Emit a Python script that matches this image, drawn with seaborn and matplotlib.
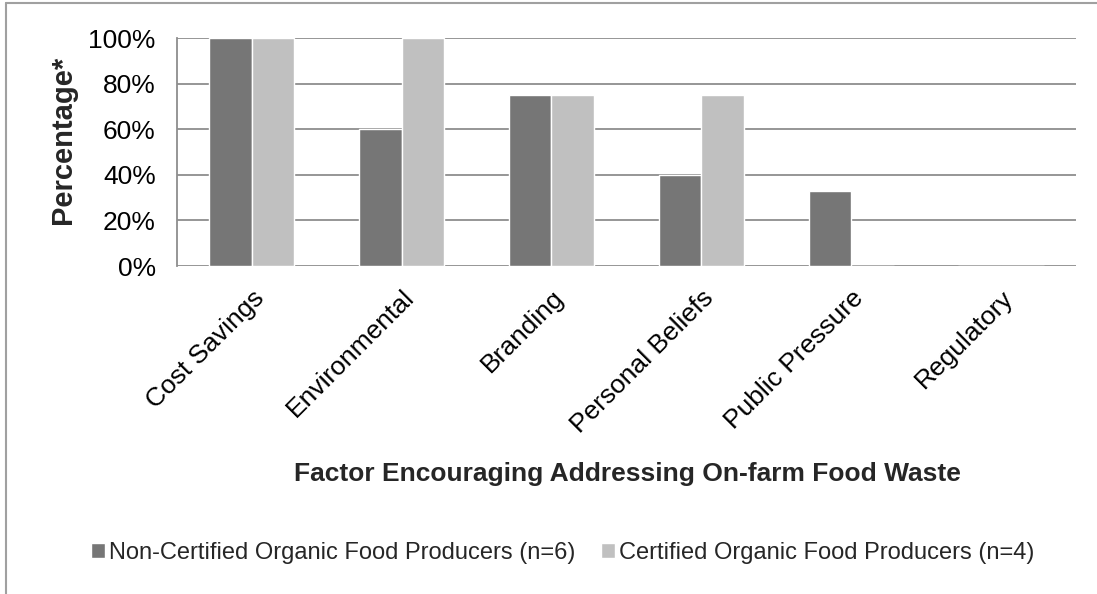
import numpy as np
import pandas as pd
import matplotlib.pyplot as plt
import seaborn as sns
from matplotlib.ticker import PercentFormatter
from matplotlib.lines import Line2D

# data
categories = ["Cost Savings", "Environmental", "Branding", "Personal Beliefs",
              "Public Pressure", "Regulatory"]
non_certified = [1.00, 0.60, 0.75, 0.40, 0.33, 0.0]
certified = [1.00, 1.00, 0.75, 0.75, 0.0, 0.0]
series_names = ["Non-Certified Organic Food Producers (n=6)",
                "Certified Organic Food Producers (n=4)"]

df = pd.DataFrame({
    "Factor": categories * 2,
    "Value": non_certified + certified,
    "Group": [series_names[0]] * len(categories) + [series_names[1]] * len(categories),
})

sns.set_theme(style="white")
plt.rcParams["font.family"] = ["Liberation Sans", "DejaVu Sans"]

fig = plt.figure(figsize=(10.97, 5.94), dpi=100)
ax = fig.add_axes([0.161, 0.552, 0.82, 0.384])

palette = {series_names[0]: "#767676", series_names[1]: "#c0c0c0"}
sns.barplot(data=df, x="Factor", y="Value", hue="Group", palette=palette,
            width=0.57, gap=0, saturation=1, ax=ax, legend=True)

ax.set_ylim(0, 1)
ax.set_yticks(np.arange(0, 1.01, 0.2))
ax.yaxis.set_major_formatter(PercentFormatter(1.0, decimals=0))
ax.grid(axis="y", color="#8e8e8e", linewidth=1.3)
ax.set_axisbelow(True)
for s in ["top", "right", "bottom"]:
    ax.spines[s].set_visible(False)
ax.spines["left"].set_color("#8e8e8e")
ax.spines["left"].set_linewidth(1.3)
ax.tick_params(axis="both", length=0, labelsize=19, colors="black")
ax.tick_params(axis="y", pad=15)
ax.tick_params(axis="x", pad=14)
plt.setp(ax.get_xticklabels(), rotation=45, ha="right", rotation_mode="anchor")

ax.set_ylabel("Percentage*", fontsize=21, fontweight="bold")
ax.yaxis.set_label_coords(-0.111, 0.553)
ax.set_xlabel("")
fig.text(0.5716, 0.202, "Factor Encouraging Addressing On-farm Food Waste",
         ha="center", va="center", fontsize=19, fontweight="bold")

handles, labels = ax.get_legend_handles_labels()
ax.legend_.remove()
fig.legend(handles, labels, loc="center", bbox_to_anchor=(0.513, 0.069), ncol=2,
           frameon=False, fontsize=17, handlelength=0.6, handleheight=0.6,
           handletextpad=0.15, columnspacing=1.1)

# chart border (left and top edges)
fig.add_artist(Line2D([0.0055, 0.0055], [0, 0.995], transform=fig.transFigure,
                      color="#a0a0a0", linewidth=1.5))
fig.add_artist(Line2D([0.0055, 1], [0.995, 0.995], transform=fig.transFigure,
                      color="#a0a0a0", linewidth=1.5))

fig.savefig("out.png", dpi=100)
